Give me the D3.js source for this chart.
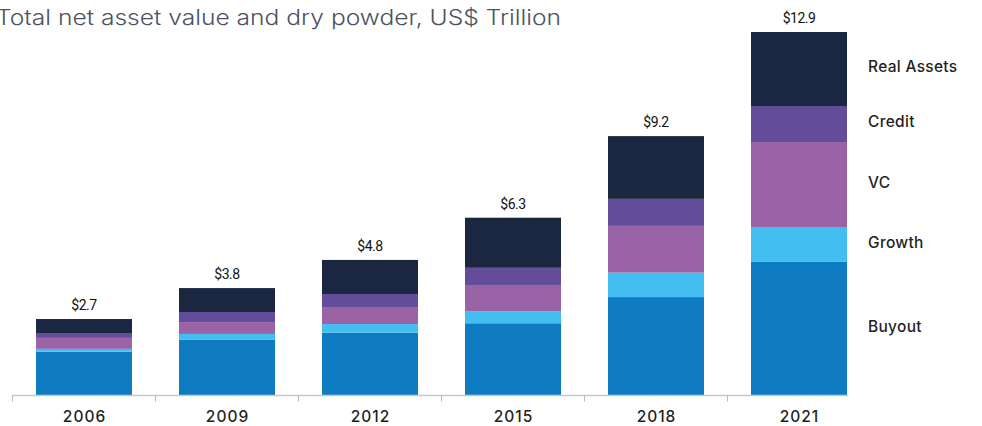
<!DOCTYPE html>
<html>
<head>
<meta charset="utf-8">
<script src="https://cdn.jsdelivr.net/npm/d3@7"></script>
<style>
  html, body { margin: 0; padding: 0; background: #fff; }
  svg { display: block; }
</style>
</head>
<body>
<svg id="chart" width="982" height="426"></svg>
<script>
const years = ["2006", "2009", "2012", "2015", "2018", "2021"];
const seriesNames = ["Buyout", "Growth", "VC", "Credit", "Real Assets"];
const buyout     = [1.54, 1.96, 2.22, 2.55, 3.48, 4.73];
const growth     = [0.10, 0.21, 0.30, 0.43, 0.87, 1.24];
const vc         = [0.39, 0.42, 0.58, 0.93, 1.66, 3.02];
const credit     = [0.15, 0.36, 0.49, 0.61, 0.96, 1.28];
const realAssets = [0.52, 0.85, 1.21, 1.78, 2.23, 2.63];
const totals     = [2.7, 3.8, 4.8, 6.3, 9.2, 12.9];
const totalLabels = ["$2.7", "$3.8", "$4.8", "$6.3", "$9.2", "$12.9"];
const colors = ["#0f7bc1", "#42bff0", "#9a63a5", "#634d9a", "#1b2641"];
const title = "Total net asset value and dry powder, US$ Trillion";

const svg = d3.select("#chart");

const rows = years.map((y, i) => ({
  year: y,
  "Buyout": buyout[i],
  "Growth": growth[i],
  "VC": vc[i],
  "Credit": credit[i],
  "Real Assets": realAssets[i],
  total: totals[i],
  label: totalLabels[i]
}));

const stacked = d3.stack().keys(seriesNames)(rows);

const x = d3.scaleBand().domain(years).range([12.5, 870.5]).paddingInner(47/143).paddingOuter(23.5/143);
const y = d3.scaleLinear().domain([0, 12.9]).range([395, 32]);

// bars
svg.append("g").selectAll("g")
  .data(stacked)
  .join("g")
  .attr("fill", (d, i) => colors[i])
  .selectAll("rect")
  .data(d => d)
  .join("rect")
  .attr("x", d => x(d.data.year))
  .attr("width", x.bandwidth())
  .attr("y", d => y(d[1]))
  .attr("height", d => y(d[0]) - y(d[1]));

// axis
const axisG = svg.append("g").attr("transform", "translate(0,395.5)");
const axisX = d3.scaleBand().domain(years).range([12.5, 870.5]);
axisG.append("line")
  .attr("x1", 12).attr("x2", 848)
  .attr("stroke", "#c8c8c8").attr("stroke-width", 1.5);
axisG.selectAll("line.tick")
  .data(years)
  .join("line")
  .attr("class", "tick")
  .attr("x1", d => axisX(d)).attr("x2", d => axisX(d))
  .attr("y1", 0).attr("y2", 6)
  .attr("stroke", "#b8b8b8").attr("stroke-width", 1);
axisG.selectAll("text")
  .data(years)
  .join("text")
  .attr("x", d => x(d) + x.bandwidth() / 2 + 0.5)
  .attr("y", 26.5)
  .attr("text-anchor", "middle")
  .attr("font-family", "Inter, sans-serif")
  .attr("font-weight", 500)
  .attr("font-size", 15.5)
  .attr("letter-spacing", "1")
  .attr("fill", "#1f1f1f")
  .text(d => d);

// total labels
svg.append("g").selectAll("text")
  .data(rows)
  .join("text")
  .attr("x", d => x(d.year) + x.bandwidth() / 2)
  .attr("y", d => y(d.total) - 9)
  .attr("text-anchor", "middle")
  .attr("font-family", "Roboto, sans-serif")
  .attr("font-size", 14)
  .attr("letter-spacing", "-0.5")
  .attr("fill", "#111")
  .text(d => d.label);

// series labels next to last bar
const last = rows.length - 1;
svg.append("g").selectAll("text")
  .data(stacked)
  .join("text")
  .attr("x", 868)
  .attr("y", d => (y(d[last][0]) + y(d[last][1])) / 2 - 2)
  .attr("dy", "0.35em")
  .attr("font-family", "Inter, sans-serif")
  .attr("font-weight", 500)
  .attr("font-size", 15.5)
  .attr("letter-spacing", "0.3")
  .attr("fill", "#1f1f1f")
  .text(d => d.key);

// title
svg.append("text")
  .attr("x", -4)
  .attr("y", 25)
  .attr("font-family", "Inter, sans-serif")
  .attr("font-weight", 300)
  .attr("font-size", 21)
  .attr("textLength", 565)
  .attr("lengthAdjust", "spacingAndGlyphs")
  .attr("fill", "#4b5262")
  .text(title);
</script>
</body>
</html>
